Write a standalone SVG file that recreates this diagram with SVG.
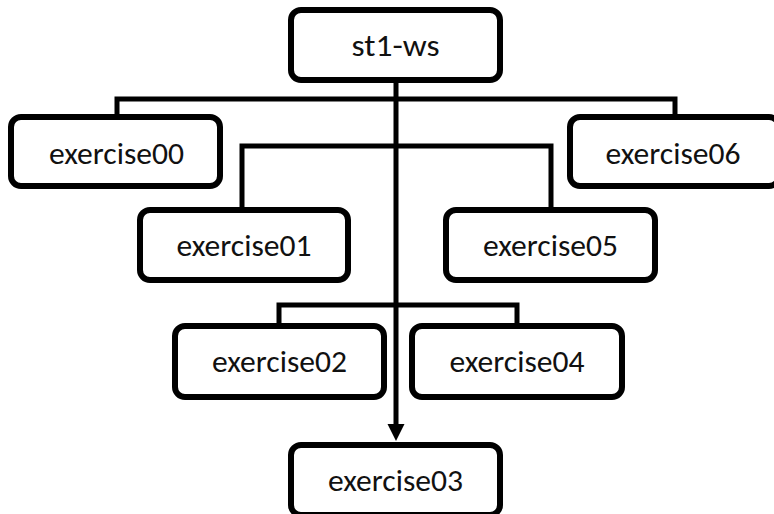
<svg xmlns="http://www.w3.org/2000/svg" width="774" height="514" viewBox="0 0 774 514">
<style>
.box{fill:#fff;stroke:#000;stroke-width:6}
.lbl{font-family:"Carlito","Liberation Sans",Arial,sans-serif;font-size:31px;fill:#111;text-anchor:middle}
.con{fill:none;stroke:#000;stroke-width:5}
</style>
<rect width="774" height="514" fill="#fff"/>
<g id="connectors">
<path class="con" d="M117,117 V99 H675 V117"/>
<path class="con" d="M242,210 V146 H551 V210"/>
<path class="con" d="M279,326 V305 H517 V326"/>
<path class="con" d="M396,80 V426"/>
<polygon points="387.5,424 404.5,424 396,441" fill="#000"/>
</g>
<g id="st1-ws"><rect class="box" x="291" y="10" width="209" height="70" rx="10"/><text class="lbl" x="395.5" y="56" textLength="88" lengthAdjust="spacingAndGlyphs">st1-ws</text></g>
<g id="exercise00"><rect class="box" x="11" y="117" width="209" height="69" rx="10"/><text class="lbl" x="116.5" y="164" textLength="135" lengthAdjust="spacingAndGlyphs">exercise00</text></g>
<g id="exercise06"><rect class="box" x="570" y="117" width="209" height="69" rx="10"/><text class="lbl" x="673" y="164" textLength="135" lengthAdjust="spacingAndGlyphs">exercise06</text></g>
<g id="exercise01"><rect class="box" x="140" y="210" width="208" height="70" rx="10"/><text class="lbl" x="244" y="256" textLength="135" lengthAdjust="spacingAndGlyphs">exercise01</text></g>
<g id="exercise05"><rect class="box" x="446" y="210" width="209" height="70" rx="10"/><text class="lbl" x="550.5" y="256" textLength="135" lengthAdjust="spacingAndGlyphs">exercise05</text></g>
<g id="exercise02"><rect class="box" x="175" y="326" width="209" height="71" rx="10"/><text class="lbl" x="279.5" y="372" textLength="135" lengthAdjust="spacingAndGlyphs">exercise02</text></g>
<g id="exercise04"><rect class="box" x="412" y="326" width="210" height="71" rx="10"/><text class="lbl" x="517" y="372" textLength="135" lengthAdjust="spacingAndGlyphs">exercise04</text></g>
<g id="exercise03"><rect class="box" x="291" y="445" width="209" height="70" rx="10"/><text class="lbl" x="395.5" y="491" textLength="135" lengthAdjust="spacingAndGlyphs">exercise03</text></g>
</svg>
